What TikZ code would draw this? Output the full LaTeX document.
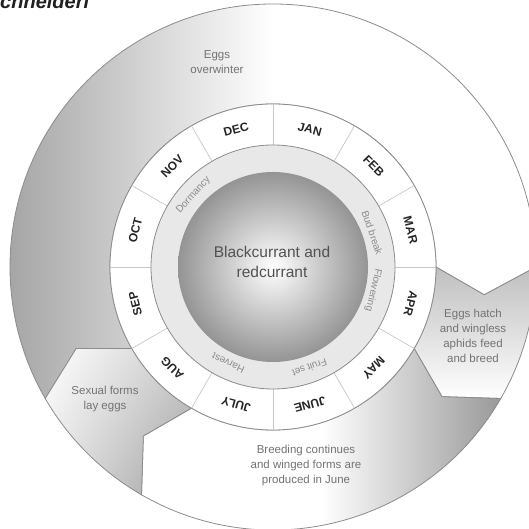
\documentclass[tikz,border=0pt]{standalone}
\usepackage{fontspec}
\setmainfont{Liberation Sans}
\usetikzlibrary{shadings}
\tikzset{
  ringline/.style={draw=black!45, line width=0.8pt},
  divline/.style={draw=black!22, line width=0.7pt},
  monthlbl/.style={font=\fontsize{12}{12}\selectfont\bfseries, text=black!85, inner sep=0pt},
  phaselbl/.style={font=\fontsize{10}{10}\selectfont, text=black!45, inner sep=0pt},
  stagelbl/.style={font=\fontsize{11.5}{15}\selectfont, text=black!55, align=center},
}

\begin{document}
\begin{tikzpicture}
  \useasboundingbox (0pt,0pt) rectangle (529pt,529pt);

  \begin{scope}[shift={(273pt,262pt)}]
  %% stages of the aphid
  \shade[ringline, left color=black!35, right color=white, middle color=white]
    (0:163pt) -- (-7.5:213pt) -- (0:263pt)
    arc[start angle=0, end angle=210, radius=263pt]
    -- (202.5:213pt) -- (210:163pt)
    arc[start angle=210, end angle=0, radius=163pt] -- cycle;
  \shade[ringline, top color=black!25, bottom color=white]
    (-30:163pt) -- (-37.5:213pt) -- (-30:263pt)
    arc[start angle=-30, end angle=0, radius=263pt]
    -- (-7.5:213pt) -- (0:163pt)
    arc[start angle=0, end angle=-30, radius=163pt] -- cycle;
  \shade[ringline, left color=white, right color=black!40, middle color=white]
    (-120:163pt) -- (-127.5:213pt) -- (-120:263pt)
    arc[start angle=-120, end angle=-30, radius=263pt]
    -- (-37.5:213pt) -- (-30:163pt)
    arc[start angle=-30, end angle=-120, radius=163pt] -- cycle;
  \shade[ringline, upper left=white, upper right=black!20, lower left=black!10, lower right=black!38]
    (-150:163pt) -- (-157.5:213pt) -- (-150:263pt)
    arc[start angle=-150, end angle=-120, radius=263pt]
    -- (-127.5:213pt) -- (-120:163pt)
    arc[start angle=-120, end angle=-150, radius=163pt] -- cycle;

  %% months
  \draw[ringline, fill=white] (0pt,0pt) circle (163pt);
  \draw[divline] (90:122pt) -- (90:163pt);
  \draw[divline] (60:122pt) -- (60:163pt);
  \draw[divline] (30:122pt) -- (30:163pt);
  \draw[divline] (0:122pt) -- (0:163pt);
  \draw[divline] (-30:122pt) -- (-30:163pt);
  \draw[divline] (-60:122pt) -- (-60:163pt);
  \draw[divline] (-90:122pt) -- (-90:163pt);
  \draw[divline] (-120:122pt) -- (-120:163pt);
  \draw[divline] (-150:122pt) -- (-150:163pt);
  \draw[divline] (180:122pt) -- (180:163pt);
  \draw[divline] (150:122pt) -- (150:163pt);
  \draw[divline] (120:122pt) -- (120:163pt);

  \node[monthlbl, rotate=-15]  (jan)  at (75:142.5pt)   {JAN};
  \node[monthlbl, rotate=-45]  (feb)  at (45:142.5pt)   {FEB};
  \node[monthlbl, rotate=-75]  (mar)  at (15:142.5pt)   {MAR};
  \node[monthlbl, rotate=-105] (apr)  at (-15:142.5pt)  {APR};
  \node[monthlbl, rotate=-135] (may)  at (-45:142.5pt)  {MAY};
  \node[monthlbl, rotate=-165] (june) at (-75:142.5pt)  {JUNE};
  \node[monthlbl, rotate=-195] (july) at (-105:142.5pt) {JULY};
  \node[monthlbl, rotate=-225] (aug)  at (-135:142.5pt) {AUG};
  \node[monthlbl, rotate=-255] (sep)  at (-165:142.5pt) {SEP};
  \node[monthlbl, rotate=75]   (oct)  at (165:142.5pt)  {OCT};
  \node[monthlbl, rotate=45]   (nov)  at (135:142.5pt)  {NOV};
  \node[monthlbl, rotate=15]   (dec)  at (105:142.5pt)  {DEC};

  %% crop phases
  \draw[ringline, fill=black!9] (0pt,0pt) circle (122pt);
  \shade[inner color=white, outer color=black!42] (0pt,0pt) circle (95pt);

  \node[phaselbl, rotate=48]   (dormancy)  at (138:107pt) {Dormancy};
  \node[phaselbl, rotate=-71]  (budbreak)  at (19:105pt)  {Bud break};
  \node[phaselbl, rotate=-103] (flowering) at (-13:103pt) {Flowering};
  \node[phaselbl, rotate=-160] (fruitset)  at (-70:107pt) {Fruit set};
  \node[phaselbl, rotate=-205] (harvest)   at (-115:106pt) {Harvest};
  \end{scope}

  %% texts
  \node[font=\fontsize{15.5}{20}\selectfont, text=black!68, align=center] (crop)
    at (272pt,267pt) {Blackcurrant and\\redcurrant};
  \node[stagelbl] (overwinter) at (217pt,467pt) {Eggs\\overwinter};
  \node[stagelbl] (hatch) at (473pt,193.5pt) {Eggs hatch\\and wingless\\aphids feed\\and breed};
  \node[stagelbl] (sexual) at (105pt,129.5pt) {Sexual forms\\lay eggs};
  \node[stagelbl] (breeding) at (306pt,63pt) {Breeding continues\\and winged forms are\\produced in June};

  \node[font=\fontsize{20}{20}\selectfont\bfseries\itshape, text=black!88, inner sep=0pt,
    anchor=base west] (title) at (0pt,520pt) {chneideri};

\end{tikzpicture}
\end{document}
